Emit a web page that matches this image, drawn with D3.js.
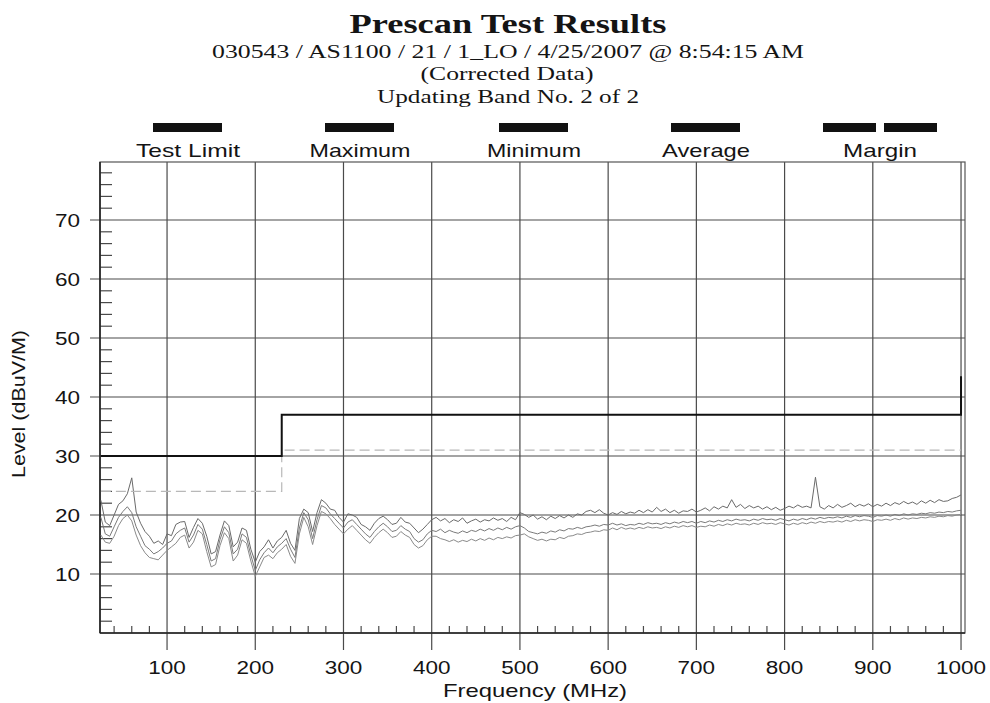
<!DOCTYPE html>
<html><head><meta charset="utf-8">
<script src="https://cdn.jsdelivr.net/npm/d3@7"></script>
<style>html,body{margin:0;padding:0;background:#fff;}svg{display:block;}</style>
</head><body>
<svg id="chart" width="990" height="703"></svg>
<script>
// ---------------- DATA ----------------
const titleText = "Prescan Test Results";
const subtitleLines = ["030543 / AS1100 / 21 / 1_LO / 4/25/2007 @ 8:54:15 AM", "(Corrected Data)", "Updating Band No. 2 of 2"];
const legendLabels = ["Test Limit", "Maximum", "Minimum", "Average", "Margin"];
const xTickValues = [100, 200, 300, 400, 500, 600, 700, 800, 900, 1000];
const yTickValues = [10, 20, 30, 40, 50, 60, 70];
const xLabel = "Frequency (MHz)";
const yLabel = "Level (dBuV/M)";

const limitFreq = [25, 230, 230, 1000, 1000];
const limitVals = [30, 30, 37, 37, 43.5];
const marginFreq = [25, 230, 230, 1000];
const marginVals = [24, 24, 31, 31];

const freqs = [25,30,35,40,45,50,55,60,65,70,75,80,85,90,95,100,105,110,115,120,125,130,135,140,145,150,155,160,165,170,175,180,185,190,195,200,
205,210,215,220,225,230,235,240,245,250,255,260,265,270,275,280,285,290,295,300,305,310,315,320,325,330,335,340,345,350,355,360,365,370,375,380,385,390,395,400,
405,410,415,420,425,430,435,440,445,450,455,460,465,470,475,480,485,490,495,500,
505,510,515,520,525,530,535,540,545,550,555,560,565,570,575,580,585,590,595,600,
605,610,615,620,625,630,635,640,645,650,655,660,665,670,675,680,685,690,695,700,
705,710,715,720,725,730,735,740,745,750,755,760,765,770,775,780,785,790,795,800,
805,810,815,820,825,830,835,840,845,850,855,860,865,870,875,880,885,890,895,900,
905,910,915,920,925,930,935,940,945,950,955,960,965,970,975,980,985,990,995,1000];

const maxVals = [22.5,18.8,18.2,20.0,21.8,22.4,23.6,26.3,20.5,18.6,17.2,16.4,15.2,15.6,15.0,16.8,16.5,18.4,18.8,18.9,16.2,17.9,19.4,18.6,16.4,13.4,13.8,16.6,19.0,18.2,14.6,15.4,17.8,17.4,14.2,12.0,
13.8,14.6,15.8,14.4,15.6,16.2,17.4,15.2,14.0,19.4,21.0,20.4,17.2,20.4,22.6,22.0,21.0,20.8,19.6,18.8,20.2,20.0,19.6,18.4,18.0,17.4,18.6,19.4,19.8,19.2,18.4,18.6,19.6,18.8,18.6,17.8,17.0,17.6,18.4,19.2,
19.6,19.0,19.4,18.7,19.2,18.9,19.5,18.6,19.0,19.3,18.8,19.2,19.0,19.5,19.1,19.4,18.9,19.6,19.2,20.4,
20.1,19.6,20.0,19.3,19.7,19.2,19.8,19.4,19.9,19.5,20.0,19.6,20.2,20.0,20.6,20.8,20.4,20.9,20.3,20.0,
20.4,20.1,20.6,20.2,20.5,20.3,20.8,20.4,20.9,20.5,21.3,20.6,21.0,20.4,20.8,20.3,20.7,20.6,21.0,20.5,
20.8,21.2,20.7,21.4,21.0,21.5,21.2,22.6,21.3,21.8,21.1,21.6,21.2,21.5,21.0,21.4,20.9,21.3,20.8,21.1,
21.5,21.2,21.7,21.3,21.5,21.2,26.4,21.4,21.0,21.6,21.2,21.8,21.3,21.6,22.0,21.4,21.8,21.5,21.9,21.4,
21.8,21.5,22.0,21.6,22.1,21.8,22.3,21.9,22.2,21.8,22.4,22.0,22.5,22.1,22.6,22.3,22.4,22.8,23.0,23.4];

const avgVals = [19.6,16.8,16.4,18.0,19.6,20.6,21.4,20.4,18.0,16.4,14.8,14.2,13.4,13.8,14.4,15.2,15.6,16.8,17.4,17.8,15.4,16.6,18.4,17.6,15.0,12.2,12.6,15.8,18.0,17.0,13.4,14.2,16.8,16.2,13.2,10.6,
12.4,13.6,14.4,13.6,14.6,15.2,16.0,14.2,12.8,17.8,20.4,19.2,16.0,19.2,21.6,21.2,20.2,19.4,18.6,17.8,18.8,19.2,18.4,17.6,16.8,16.2,17.2,18.0,18.6,18.0,17.2,17.4,18.2,17.6,17.2,16.0,15.4,15.8,16.8,17.4,
17.2,17.6,17.0,17.4,17.1,16.9,17.3,17.0,17.4,17.2,17.6,17.3,17.7,17.4,17.8,17.5,17.9,17.6,18.0,18.2,
17.8,17.2,17.0,16.8,17.1,16.9,17.3,17.1,17.5,17.3,17.7,17.6,17.9,17.7,18.0,18.1,18.3,18.1,18.4,18.3,
18.6,18.3,18.5,18.2,18.4,18.3,18.6,18.4,18.7,18.5,18.6,18.4,18.7,18.5,18.8,18.6,18.9,18.7,18.9,18.6,
18.9,18.7,19.0,18.8,19.1,18.9,19.2,19.0,19.3,19.1,19.2,19.0,19.3,19.1,19.4,19.2,19.3,19.1,19.4,19.2,
19.0,19.3,19.1,19.4,19.2,19.5,19.3,19.6,19.4,19.6,19.5,19.7,19.5,19.8,19.6,19.9,19.7,19.9,19.8,19.6,
19.9,19.8,20.0,19.8,20.1,19.9,20.2,20.0,20.2,20.1,20.3,20.2,20.4,20.3,20.5,20.4,20.6,20.5,20.7,20.8];

const minVals = [16.6,15.4,15.2,16.4,18.2,19.4,20.0,19.0,16.6,14.8,13.6,12.8,12.6,12.4,13.2,14.0,14.6,15.2,16.2,16.6,14.4,15.4,17.4,16.8,13.8,11.2,11.6,14.8,17.0,16.0,12.2,13.2,15.8,15.2,12.2,9.6,
11.2,12.8,13.2,12.6,13.6,14.2,15.0,13.0,11.8,16.8,19.6,18.0,15.0,18.2,20.6,20.2,19.4,18.4,17.6,16.8,17.6,18.2,17.4,16.6,15.8,15.2,16.2,17.0,17.6,17.0,16.2,16.4,17.2,16.6,16.2,15.0,14.4,14.8,15.8,16.4,
16.4,16.0,15.8,15.5,15.8,15.4,15.7,15.5,15.9,15.6,16.0,15.7,16.1,15.8,16.2,16.0,16.3,16.1,16.5,16.6,
16.8,16.3,16.0,15.7,15.9,15.6,15.9,15.8,16.2,16.0,16.4,16.5,16.8,16.7,17.0,17.1,17.3,17.2,17.5,17.4,
17.8,17.5,17.9,17.6,17.8,17.6,17.9,17.7,18.0,17.8,17.9,17.7,18.0,17.8,18.1,17.9,18.2,18.0,18.2,17.9,
18.1,18.0,18.3,18.1,18.4,18.2,18.5,18.3,18.6,18.4,18.5,18.3,18.6,18.4,18.7,18.5,18.6,18.4,18.7,18.5,
18.3,18.6,18.4,18.7,18.5,18.8,18.6,18.9,18.7,18.9,18.8,19.0,18.8,19.1,18.9,19.2,19.0,19.2,19.1,18.9,
19.2,19.1,19.3,19.1,19.4,19.2,19.5,19.3,19.5,19.4,19.6,19.5,19.7,19.6,19.8,19.7,19.9,19.8,20.0,20.1];

// ---------------- DRAW ----------------
const svg = d3.select("#chart");
const L = 100, R = 965, T = 162, B = 633;
const x = d3.scaleLinear().domain([24, 1004.5]).range([L, R]);
const y = d3.scaleLinear().domain([0, 80]).range([B, T - 1]);
const sans = "'Liberation Sans', Arial, Helvetica, sans-serif";
const serif = "'Liberation Serif', 'Times New Roman', serif";
const ink = "#141414";
const gridCol = "#4a4a4a";

svg.append("rect").attr("width", 990).attr("height", 703).attr("fill", "#fff");

// Titles
function fitText(g, txt, cx, by, size, family, weight, width) {
  return g.append("text").attr("x", cx).attr("y", by).attr("text-anchor", "middle")
    .attr("font-family", family).attr("font-size", size).attr("font-weight", weight)
    .attr("fill", ink).attr("textLength", width).attr("lengthAdjust", "spacingAndGlyphs").text(txt);
}
fitText(svg, titleText, 508, 33, 28, serif, "bold", 317);
fitText(svg, subtitleLines[0], 508, 58, 19, serif, "normal", 592);
fitText(svg, subtitleLines[1], 507, 80, 19, serif, "normal", 173);
fitText(svg, subtitleLines[2], 508, 103, 19, serif, "normal", 262);

// Legend
const legendCenters = [188, 360, 534, 706, 880];
const legendWidths = [104, 101, 94, 88, 74];
const legG = svg.append("g");
legendLabels.forEach((lab, i) => {
  if (i < 4) {
    legG.append("rect").attr("x", legendCenters[i] - 35).attr("y", 123).attr("width", 69).attr("height", 9).attr("fill", "#111");
  } else {
    legG.append("rect").attr("x", 823).attr("y", 123).attr("width", 53).attr("height", 9).attr("fill", "#111");
    legG.append("rect").attr("x", 884).attr("y", 123).attr("width", 53).attr("height", 9).attr("fill", "#111");
  }
  fitText(legG, lab, legendCenters[i], 157, 19, sans, "normal", legendWidths[i]);
});

// Grid
const gridG = svg.append("g");
gridG.selectAll("line.vx").data(xTickValues).join("line")
  .attr("x1", d => x(d)).attr("x2", d => x(d)).attr("y1", T).attr("y2", B + 17)
  .attr("stroke", gridCol).attr("stroke-width", 1.2);
gridG.selectAll("line.hy").data(yTickValues).join("line")
  .attr("x1", L - 10).attr("x2", R).attr("y1", d => y(d)).attr("y2", d => y(d))
  .attr("stroke", gridCol).attr("stroke-width", 1.2);

// Minor ticks
const yMinor = d3.range(2, 80, 2).filter(v => v % 10 !== 0);
gridG.selectAll("line.my").data(yMinor).join("line")
  .attr("x1", L).attr("x2", L + 12).attr("y1", d => y(d)).attr("y2", d => y(d))
  .attr("stroke", gridCol).attr("stroke-width", 1.2);
const xMinor = d3.range(40, 1000, 20).filter(v => v % 100 !== 0);
gridG.selectAll("line.mx").data(xMinor).join("line")
  .attr("x1", d => x(d)).attr("x2", d => x(d)).attr("y1", B).attr("y2", B - 7)
  .attr("stroke", gridCol).attr("stroke-width", 1.2);

// Frame
gridG.append("rect").attr("x", L).attr("y", T).attr("width", R - L).attr("height", B - T)
  .attr("fill", "none").attr("stroke", "#555").attr("stroke-width", 1.2);
gridG.append("line").attr("x1", L).attr("x2", L).attr("y1", T).attr("y2", B).attr("stroke", "#222").attr("stroke-width", 1.6);
gridG.append("line").attr("x1", L).attr("x2", R).attr("y1", B).attr("y2", B).attr("stroke", "#222").attr("stroke-width", 1.6);

// Tick labels
const sx = 1.25;
svg.append("g").selectAll("text").data(xTickValues).join("text")
  .attr("transform", d => `translate(${x(d)},${674}) scale(${sx},1)`)
  .attr("text-anchor", "middle").attr("font-family", sans).attr("font-size", 18).attr("fill", ink)
  .text(d => d);
svg.append("g").selectAll("text").data(yTickValues).join("text")
  .attr("transform", d => `translate(80,${y(d) + 6.5}) scale(${sx},1)`)
  .attr("text-anchor", "end").attr("font-family", sans).attr("font-size", 18).attr("fill", ink)
  .text(d => d);

// Axis titles
fitText(svg, xLabel, 535, 697, 19, sans, "normal", 184);
svg.append("text").attr("transform", "translate(25,404) rotate(-90)").attr("text-anchor", "middle")
  .attr("font-family", sans).attr("font-size", 18).attr("fill", ink)
  .attr("textLength", 148).attr("lengthAdjust", "spacingAndGlyphs").text(yLabel);

// Data traces
const line = d3.line().x(d => x(d[0])).y(d => y(d[1]));
const plotG = svg.append("g");
[minVals, avgVals, maxVals].forEach((vals, i) => {
  plotG.append("path").datum(freqs.map((f, j) => [f, vals[j]]))
    .attr("d", line).attr("fill", "none")
    .attr("stroke", ["#8a8a8a", "#7a7a7a", "#6a6a6a"][i]).attr("stroke-width", 1);
});

// Margin (dashed) and limit lines
plotG.append("path").datum(marginFreq.map((f, j) => [f, marginVals[j]]))
  .attr("d", line).attr("fill", "none").attr("stroke", "#b8b8b8").attr("stroke-width", 1.2)
  .attr("stroke-dasharray", "10,5");
plotG.append("path").datum(limitFreq.map((f, j) => [f, limitVals[j]]))
  .attr("d", line).attr("fill", "none").attr("stroke", "#111").attr("stroke-width", 2);
</script>
</body></html>
